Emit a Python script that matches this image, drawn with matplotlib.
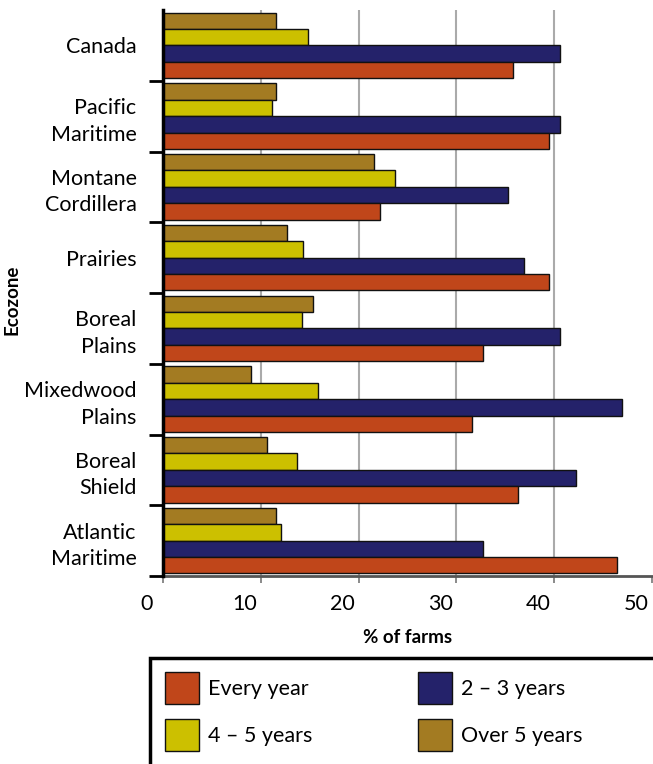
import numpy as np
import matplotlib.pyplot as plt
import matplotlib.transforms as mtransforms
from matplotlib.patches import Rectangle

plt.rcParams['font.family'] = ['Lato', 'DejaVu Sans']

zones = ["Canada", "Pacific\nMaritime", "Montane\nCordillera", "Prairies",
         "Boreal\nPlains", "Mixedwood\nPlains", "Boreal\nShield", "Atlantic\nMaritime"]
over5 = [11.6, 11.6, 21.6, 12.7, 15.3, 9.0, 10.6, 11.6]
yrs45 = [14.8, 11.1, 23.7, 14.3, 14.2, 15.8, 13.7, 12.1]
yrs23 = [40.6, 40.6, 35.3, 36.9, 40.6, 46.9, 42.2, 32.7]
every = [35.8, 39.5, 22.2, 39.5, 32.7, 31.6, 36.3, 46.4]

series = [("Over 5 years", over5, "#A37B22"),
          ("4 \u2013 5 years", yrs45, "#CCC000"),
          ("2 \u2013 3 years", yrs23, "#24226A"),
          ("Every year", every, "#C0461A")]

fig = plt.figure(figsize=(6.53, 7.64), dpi=100)
ax = fig.add_axes([163/653, 1-576/764, 489/653, 566/764])

y = np.arange(len(zones)) + 0.5
h = 0.232
bars = {}
for k, (name, vals, col) in enumerate(series):
    off = (k - 1.5) * h
    bars[name] = ax.barh(y + off, vals, height=h, color=col, edgecolor="#111111",
                         linewidth=1.0, zorder=3)

ax.set_ylim(len(zones), 0)
ax.set_xlim(0, 50)

ax.set_yticks(y)
ax.set_yticklabels(zones, fontsize=15.5, linespacing=1.4)
ax.set_yticks(np.arange(1, len(zones) + 1), minor=True)
ax.tick_params(axis="y", which="major", length=0, pad=19)
ax.tick_params(axis="y", which="minor", length=10, width=2, color="black", direction="out")

ax.set_xticks(np.arange(0, 51, 10))
ax.tick_params(axis="x", which="major", length=5, width=1.2, color="#777777", labelsize=15.5, pad=8)
shift = mtransforms.ScaledTranslation(-0.16, 0, fig.dpi_scale_trans)
for lab in ax.get_xticklabels():
    lab.set_transform(lab.get_transform() + shift)

for xv in [10, 20, 30, 40]:
    ax.axvline(xv, color="#AAAAAA", lw=1.5, zorder=1)

for s in ["top", "right"]:
    ax.spines[s].set_visible(False)
ax.spines["left"].set_linewidth(2.5)
ax.spines["left"].set_color("black")
ax.spines["bottom"].set_linewidth(2)
ax.spines["bottom"].set_color("#555555")
ax.spines["left"].set_zorder(4)

ax.set_xlabel("% of farms", fontsize=13.5, fontweight="bold", labelpad=11)
fig.text(12/653, 1-300/764, "Ecozone", rotation=90, fontsize=13.5, fontweight="bold",
         ha="center", va="center")

# legend box (runs off the canvas like the original)
fig.patches.append(Rectangle((150/653, -0.05), 0.9, (764-658)/764 + 0.05,
                             transform=fig.transFigure, fill=False,
                             edgecolor="black", linewidth=2.5))
order = ["Every year", "4 \u2013 5 years", "2 \u2013 3 years", "Over 5 years"]
handles = [bars[n] for n in order]
fig.legend(handles, order, loc="upper left", bbox_to_anchor=(165/653, 1-672/764),
           ncol=2, frameon=False, fontsize=15.5, handlelength=1.6, handleheight=1.9,
           columnspacing=4.9, labelspacing=0.7, handletextpad=0.4,
           borderpad=0, borderaxespad=0)

fig.savefig("out.png", dpi=100)
